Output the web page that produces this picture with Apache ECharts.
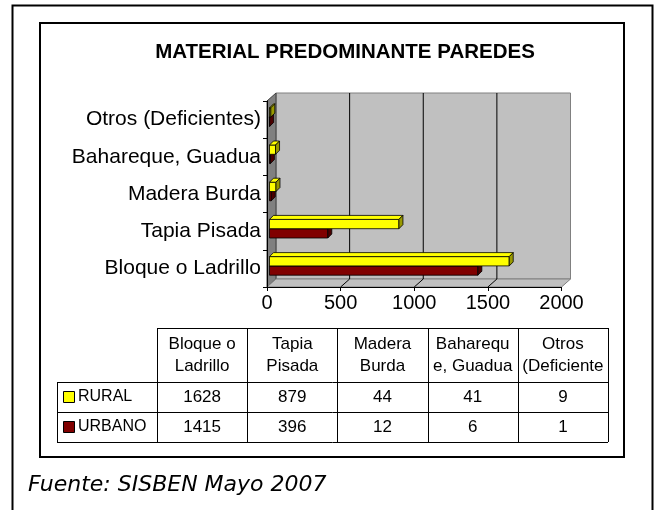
<!DOCTYPE html>
<html>
<head>
<meta charset="utf-8">
<script src="https://cdn.jsdelivr.net/npm/echarts@6/dist/echarts.min.js"></script>
<style>
  html, body { margin: 0; padding: 0; background: #fff; }
  #chart { width: 654px; height: 510px; }
</style>
</head>
<body>
<div id="chart"></div>
<script>
// data
const categories = ['Bloque o Ladrillo', 'Tapia Pisada', 'Madera Burda', 'Bahareque, Guadua', 'Otros (Deficientes)'];
const headerLabels = ['Bloque o\nLadrillo', 'Tapia\nPisada', 'Madera\nBurda', 'Baharequ\ne, Guadua', 'Otros\n(Deficiente'];
const rural = [1628, 879, 44, 41, 9];
const urbano = [1415, 396, 12, 6, 1];
const xTicks = [0, 500, 1000, 1500, 2000];

const FONT = '"Liberation Sans", Arial, sans-serif';
const chart = echarts.init(document.getElementById('chart'));

// 3d depth of the walls and bars
const wallDx = 9, wallDy = 8;
const barDepth = 4, barShift = 2.5;

const colors = {
  RURAL: { front: '#ffff00', top: '#ffff00', side: '#999900' },
  URBANO: { front: '#800000', top: '#800000', side: '#4a0000' }
};

function wallsItem(params, api) {
  const cs = params.coordSys;
  const L = cs.x, R = cs.x + cs.width, T = cs.y, B = cs.y + cs.height;
  const kids = [
    { type: 'rect', shape: { x: L + wallDx, y: T - wallDy, width: R - L, height: B - T },
      style: { fill: '#c0c0c0', stroke: '#808080', lineWidth: 1 } },
    { type: 'polygon', shape: { points: [[L, T], [L + wallDx, T - wallDy], [L + wallDx, B - wallDy], [L, B]] },
      style: { fill: '#808080', stroke: '#404040', lineWidth: 1 } },
    { type: 'polygon', shape: { points: [[L, B], [L + wallDx, B - wallDy], [R + wallDx, B - wallDy], [R, B]] },
      style: { fill: '#c0c0c0', stroke: '#808080', lineWidth: 1 } }
  ];
  xTicks.slice(1, -1).forEach(v => {
    const x = api.coord([v, 0])[0];
    kids.push({ type: 'line', shape: { x1: x + wallDx, y1: T - wallDy, x2: x + wallDx, y2: B - wallDy },
      style: { stroke: '#000', lineWidth: 1 } });
    kids.push({ type: 'line', shape: { x1: x, y1: B, x2: x + wallDx, y2: B - wallDy },
      style: { stroke: '#000', lineWidth: 1 } });
  });
  return { type: 'group', children: kids };
}

function barItem(name, slot) {
  const c = colors[name];
  return function (params, api) {
    const v = api.value(0), cat = api.value(1);
    const p0 = api.coord([0, cat]);
    const p1 = api.coord([v, cat]);
    const band = api.size([0, 1])[1];
    const h = band * 0.25;
    const x0 = p0[0] + barShift, x1 = p1[0] + barShift;
    const yT = p0[1] - barShift - h + slot * h, yB = yT + h;
    const d = barDepth;
    const st = { stroke: '#000', lineWidth: 0.8 };
    return {
      type: 'group',
      children: [
        { type: 'rect', shape: { x: x0, y: yT, width: x1 - x0, height: h }, style: Object.assign({ fill: c.front }, st) },
        { type: 'polygon', shape: { points: [[x0, yT], [x0 + d, yT - d], [x1 + d, yT - d], [x1, yT]] }, style: Object.assign({ fill: c.top }, st) },
        { type: 'polygon', shape: { points: [[x1, yT], [x1 + d, yT - d], [x1 + d, yB - d], [x1, yB]] }, style: Object.assign({ fill: c.side }, st) }
      ]
    };
  };
}

// data table under the chart, built from the arrays
const tableLeft = 157, colW = 90.2, headTop = 328, headH = 54, rowH = 30, legendLeft = 57;
const tableRight = tableLeft + colW * categories.length;
const tableBottom = headTop + headH + rowH * 2;
const tableEls = [];
function hLine(x1, x2, y) { tableEls.push({ type: 'line', shape: { x1, y1: y, x2, y2: y }, style: { stroke: '#000', lineWidth: 1 } }); }
function vLine(x, y1, y2) { tableEls.push({ type: 'line', shape: { x1: x, y1, x2: x, y2 }, style: { stroke: '#000', lineWidth: 1 } }); }
hLine(tableLeft, tableRight, headTop + 0.5);
hLine(legendLeft, tableRight, headTop + headH + 0.5);
hLine(legendLeft, tableRight, headTop + headH + rowH + 0.5);
hLine(legendLeft, tableRight, tableBottom + 0.5);
vLine(legendLeft + 0.5, headTop + headH, tableBottom);
for (let i = 0; i <= categories.length; i++) vLine(Math.round(tableLeft + i * colW) + 0.5, headTop, tableBottom);
headerLabels.forEach((t, i) => {
  tableEls.push({ type: 'text', x: tableLeft + (i + 0.5) * colW, y: headTop + headH / 2,
    style: { text: t, fontSize: 17, fontFamily: FONT, fill: '#000', align: 'center', verticalAlign: 'middle', lineHeight: 22 } });
});
[['RURAL', rural], ['URBANO', urbano]].forEach(([name, vals], r) => {
  const yc = headTop + headH + rowH * (r + 0.5);
  tableEls.push({ type: 'rect', shape: { x: 63.5, y: yc - 5.5, width: 11, height: 11 },
    style: { fill: colors[name].front, stroke: '#000', lineWidth: 1 } });
  tableEls.push({ type: 'text', x: 78, y: yc,
    style: { text: name, fontSize: 16, fontFamily: FONT, fill: '#000', align: 'left', verticalAlign: 'middle' } });
  vals.forEach((v, i) => {
    tableEls.push({ type: 'text', x: tableLeft + (i + 0.5) * colW, y: yc,
      style: { text: String(v), fontSize: 17, fontFamily: FONT, fill: '#000', align: 'center', verticalAlign: 'middle' } });
  });
});

chart.setOption({
  animation: false,
  title: {
    text: 'MATERIAL PREDOMINANTE PAREDES',
    left: 340, top: 37, textAlign: 'center',
    textStyle: { fontSize: 20.5, fontWeight: 'bold', fontFamily: FONT, color: '#000' }
  },
  grid: { left: 267, right: 92.5, top: 101, bottom: 223 },
  xAxis: {
    type: 'value', min: 0, max: 2000, interval: 500, z: 5,
    axisLine: { show: true, lineStyle: { color: '#000', width: 1 } },
    axisTick: { show: true, length: 4, lineStyle: { color: '#000' } },
    splitLine: { show: false },
    axisLabel: { fontSize: 20, fontFamily: FONT, color: '#000', margin: 6, formatter: v => String(v) }
  },
  yAxis: {
    type: 'category', data: categories, z: 5,
    axisLine: { show: true, lineStyle: { color: '#000', width: 1 } },
    axisTick: { show: true, length: 4, lineStyle: { color: '#000' } },
    axisLabel: { fontSize: 21, fontFamily: FONT, color: '#000', margin: 6 }
  },
  series: [
    { type: 'custom', name: 'walls', silent: true, clip: false, renderItem: wallsItem, data: [[0, 0]], encode: { x: 0, y: 1 } },
    { type: 'custom', name: 'URBANO', silent: true, clip: false, renderItem: barItem('URBANO', 1),
      data: urbano.map((v, i) => [v, i]), encode: { x: 0, y: 1 } },
    { type: 'custom', name: 'RURAL', silent: true, clip: false, renderItem: barItem('RURAL', 0),
      data: rural.map((v, i) => [v, i]), encode: { x: 0, y: 1 } }
  ],
  graphic: [
    { type: 'rect', silent: true, shape: { x: 12.5, y: 5.5, width: 640, height: 530 }, style: { fill: 'none', stroke: '#000', lineWidth: 2 } },
    { type: 'rect', silent: true, shape: { x: 40, y: 23, width: 584, height: 434 }, style: { fill: 'none', stroke: '#000', lineWidth: 2 } },
    { type: 'group', silent: true, children: tableEls },
    { type: 'text', silent: true, x: 28, y: 485,
      style: { text: 'Fuente: SISBEN Mayo 2007', fontSize: 22, fontStyle: 'italic', fontFamily: '"DejaVu Sans", Verdana, sans-serif', fill: '#000', verticalAlign: 'middle' } }
  ]
});
</script>
</body>
</html>
